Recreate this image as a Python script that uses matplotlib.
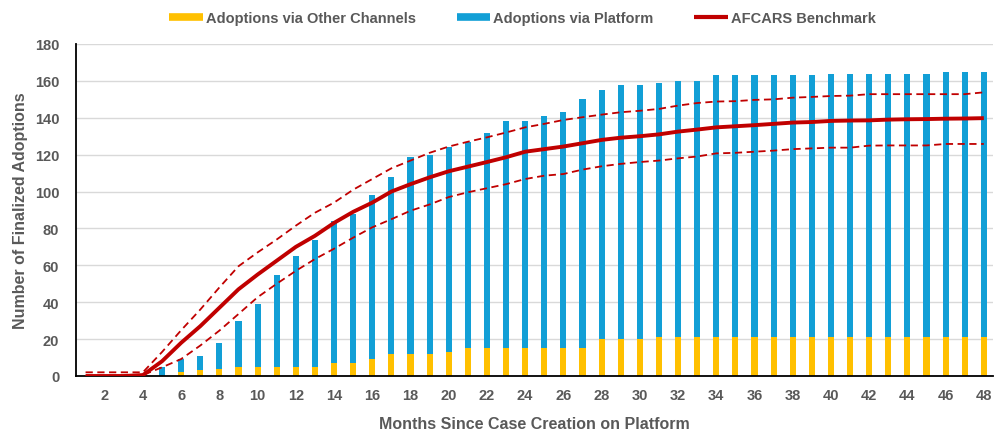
import matplotlib.pyplot as plt
from matplotlib.lines import Line2D
import numpy as np

# months since case creation
months = list(range(1, 49))

# adoptions finalized through other channels (yellow part of each bar)
other = [0, 0, 0, 0, 0, 2, 3, 4, 5, 5,
         5, 5, 5, 7, 7, 9, 12, 12, 12, 13,
         15, 15, 15, 15, 15, 15, 15, 20, 20, 20,
         21, 21, 21, 21, 21, 21, 21, 21, 21, 21,
         21, 21, 21, 21, 21, 21, 21, 21]

# cumulative total finalized adoptions (top of each bar)
total = [0, 0, 0, 0, 5, 9, 11, 18, 30, 39,
         55, 65, 74, 84, 88, 98, 108, 119, 120, 124,
         127, 132, 138, 138, 141, 143, 150, 155, 158, 158,
         159, 160, 160, 163, 163, 163, 163, 163, 163, 164,
         164, 164, 164, 164, 164, 165, 165, 165]

# AFCARS benchmark and its band
benchmark = [0, 0, 0, 0.5, 8, 18, 27, 37, 47, 55,
             62.5, 70, 76, 83, 89, 94, 100, 104, 107.7, 111,
             113.5, 116, 118.6, 121.6, 123, 124.4, 126.2, 128, 129.2, 130,
             131, 132.5, 133.6, 134.8, 135.4, 136, 136.7, 137.4, 137.7, 138.3,
             138.5, 138.6, 139, 139.2, 139.3, 139.5, 139.6, 139.8]
bench_hi = [2, 2, 2, 2, 13, 24.8, 36, 48, 59.5, 67,
            74, 81.5, 88.5, 94, 101, 106.8, 112.6, 116.8, 121, 124.4,
            127, 129.4, 132, 134.8, 136.7, 138.8, 140.3, 141.7, 143, 143.8,
            144.8, 146.6, 148, 148.8, 149, 149.7, 150, 150.9, 151.3, 151.8,
            152, 152.8, 152.8, 152.8, 152.8, 152.8, 152.8, 153.8]
bench_lo = [0, 0, 0, 0.5, 4.7, 9.2, 16.5, 24.6, 33.6, 42.7,
            50, 57, 63.4, 69, 75, 80.6, 85, 89.6, 93, 97,
            99.6, 101.8, 104, 106.8, 108.6, 109.5, 111.9, 113.7, 115, 116,
            116.8, 118, 119, 120.7, 121, 121.6, 122.2, 123, 123.4, 123.8,
            123.8, 124.9, 125, 125, 125, 125.8, 125.8, 125.8]

platform = [t - o for t, o in zip(total, other)]

YELLOW = '#FFC000'
BLUE = '#129FD6'
RED = '#C00000'
GREY = '#595959'

plt.rcParams['font.family'] = ['Liberation Sans', 'DejaVu Sans']
plt.rcParams['font.weight'] = 'bold'
plt.rcParams['axes.labelweight'] = 'bold'

fig = plt.figure(figsize=(9.95, 4.31), dpi=100)
ax = fig.add_axes([0.0764, 0.1253, 0.922, 0.7703])

x = np.array(months)
ax.bar(x, other, width=0.32, color=YELLOW, zorder=2)
ax.bar(x, platform, width=0.32, bottom=other, color=BLUE, zorder=2)

ax.plot(x, bench_hi, color=RED, lw=1.3, ls=(0, (4, 2.5)), zorder=3)
ax.plot(x, bench_lo, color=RED, lw=1.3, ls=(0, (4, 2.5)), zorder=3)
ax.plot(x, benchmark, color=RED, lw=2.8, zorder=4, solid_capstyle='butt')

ax.set_xlim(0.5, 48.5)
ax.set_ylim(0, 180)
ax.set_yticks(range(0, 181, 20))
ax.set_xticks(range(2, 49, 2))
ax.tick_params(axis='both', length=0, labelsize=10.5, labelcolor=GREY)
ax.tick_params(axis='y', pad=12)
ax.tick_params(axis='x', pad=9)
ax.grid(axis='y', color='#D9D9D9', lw=1.0, zorder=0)
ax.set_axisbelow(True)

for side in ('top', 'right'):
    ax.spines[side].set_visible(False)
ax.spines['left'].set_color('black')
ax.spines['bottom'].set_color('black')
ax.spines['left'].set_linewidth(1.3)
ax.spines['bottom'].set_linewidth(1.3)

ax.set_xlabel('Months Since Case Creation on Platform', fontsize=11.5,
              color=GREY, fontweight='bold', labelpad=10)
ax.set_ylabel('Number of Finalized Adoptions', fontsize=11.5,
              color=GREY, fontweight='bold', labelpad=5)

handles = [
    Line2D([], [], color=YELLOW, lw=5.5, solid_capstyle='butt'),
    Line2D([], [], color=BLUE, lw=5.5, solid_capstyle='butt'),
    Line2D([], [], color=RED, lw=3, solid_capstyle='butt'),
]
labels = ['Adoptions via Other Channels', 'Adoptions via Platform', 'AFCARS Benchmark']
leg = fig.legend(handles, labels, loc='center', bbox_to_anchor=(0.525, 0.955),
                 ncol=3, frameon=False, fontsize=10.5, handlelength=2.3,
                 handletextpad=0.2, columnspacing=2.8)
for t in leg.get_texts():
    t.set_color(GREY)

fig.savefig('out.png', dpi=100)
